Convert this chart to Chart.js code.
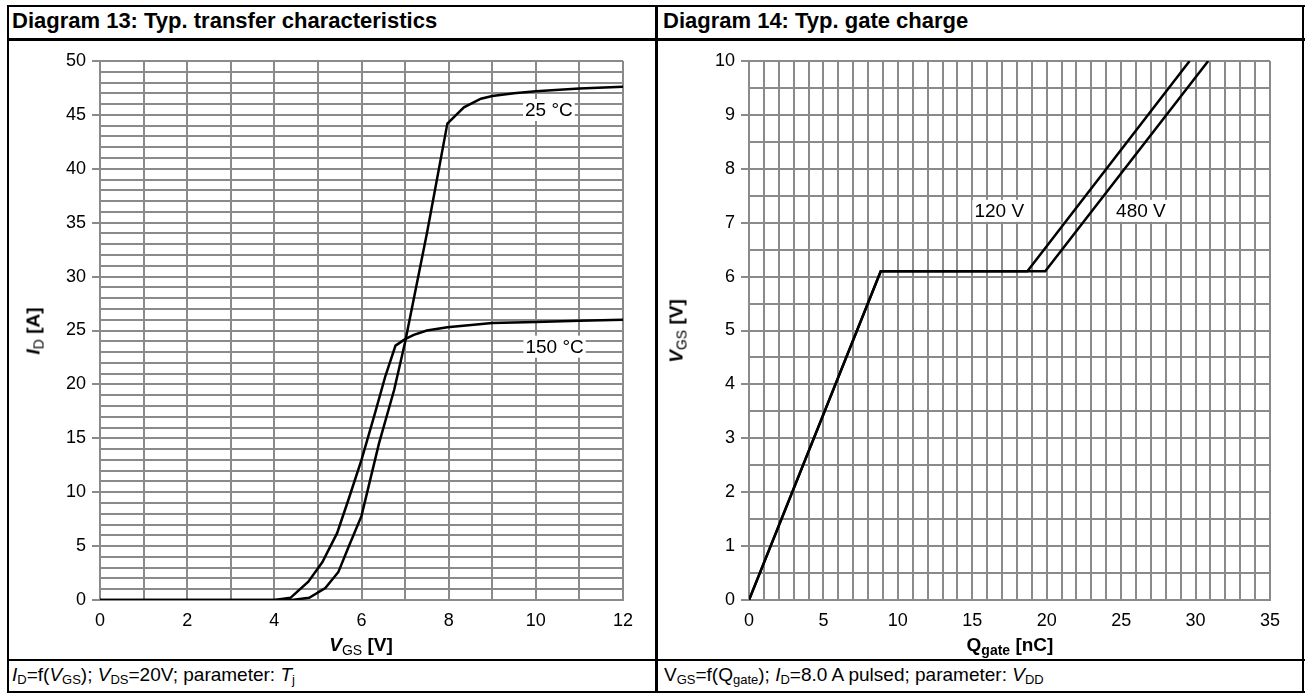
<!DOCTYPE html>
<html>
<head>
<meta charset="utf-8">
<script src="https://cdn.jsdelivr.net/npm/chart.js@4.4.1/dist/chart.umd.min.js"></script>
<style>
  body { margin: 0; background: #fff; width: 1306px; height: 693px; overflow: hidden; position: relative;
         font-family: "Liberation Sans", Arial, sans-serif; color: #000; }
  .ln { position: absolute; background: #000; }
  .hd { position: absolute; top: 9px; font-weight: bold; font-size: 22px; line-height: 24px; white-space: nowrap; }
  .cap { position: absolute; top: 664px; font-size: 19px; white-space: nowrap; line-height: 22px; }
  .tt { position: absolute; font-weight: bold; font-size: 19px; white-space: nowrap; line-height: 22px; }
  .s { font-size: 13px; position: relative; top: 3px; }
  .sb { font-size: 14px; position: relative; top: 4px; font-weight: normal; }
  .box { position: absolute; top: 40px; }
</style>
</head>
<body>
<!-- frame -->
<div class="ln" style="left:7px;top:5px;width:1298px;height:2px"></div>
<div class="ln" style="left:7px;top:38px;width:1298px;height:3px"></div>
<div class="ln" style="left:7px;top:659px;width:1298px;height:2px"></div>
<div class="ln" style="left:7px;top:691px;width:1298px;height:2px"></div>
<div class="ln" style="left:7px;top:5px;width:2px;height:688px"></div>
<div class="ln" style="left:1302px;top:5px;width:2px;height:688px"></div>
<div class="ln" style="left:655px;top:5px;width:3px;height:688px"></div>

<div class="hd" style="left:12px">Diagram 13: Typ. transfer characteristics</div>
<div class="hd" style="left:663px">Diagram 14: Typ. gate charge</div>

<div class="box" style="left:9px"><canvas id="c1" width="646" height="619"></canvas></div>
<div class="box" style="left:658px"><canvas id="c2" width="644" height="619"></canvas></div>

<div class="tt" style="left:34px;top:331px;transform:translate(-50%,-50%) rotate(-90deg)"><i>I</i><span class="sb">D</span> [A]</div>
<div class="tt" style="left:361px;top:645px;transform:translate(-50%,-50%)"><i>V</i><span class="sb">GS</span> [V]</div>
<div class="tt" style="left:677px;top:331px;transform:translate(-50%,-50%) rotate(-90deg)"><i>V</i><span class="sb">GS</span> [V]</div>
<div class="tt" style="left:1010px;top:645px;transform:translate(-50%,-50%)">Q<span class="sb" style="font-weight:bold">gate</span> [nC]</div>

<div class="cap" style="left:12px"><i>I</i><span class="s">D</span>=f(<i>V</i><span class="s">GS</span>); <i>V</i><span class="s">DS</span>=20V; parameter: <i>T</i><span class="s">j</span></div>
<div class="cap" style="left:664px">V<span class="s">GS</span>=f(Q<span class="s">gate</span>); <i>I</i><span class="s">D</span>=8.0 A pulsed; parameter: <i>V</i><span class="s">DD</span></div>

<script>
// Diagram 13 - transfer characteristics
var vgs25 = [0, 4.4, 4.8, 5.17, 5.47, 5.7, 6.0, 6.4, 6.75, 7.0, 7.5, 7.97, 8.35, 8.74, 9.0, 9.5, 10, 11, 12];
var id25  = [0, 0, 0.2, 1.1, 2.6, 4.9, 7.8, 14.5, 19.5, 23.9, 34, 44.2, 45.7, 46.5, 46.75, 47.0, 47.2, 47.45, 47.6];
var vgs150 = [0, 4.0, 4.37, 4.78, 5.1, 5.44, 5.7, 6.0, 6.3, 6.55, 6.78, 7.0, 7.2, 7.5, 7.97, 9.0, 10, 11, 12];
var id150  = [0, 0, 0.2, 1.7, 3.5, 6.2, 9.3, 13.0, 17.2, 20.8, 23.6, 24.2, 24.6, 25.0, 25.3, 25.7, 25.8, 25.9, 26.0];
var labels13 = [{ text: '25 °C', x: 10.3, y: 45.45 }, { text: '150 °C', x: 10.43, y: 23.5 }];

// Diagram 14 - gate charge
var q120 = [0, 8.85, 18.7, 29.6];
var v120 = [0, 6.1, 6.1, 10];
var q480 = [0, 8.85, 19.9, 30.85];
var v480 = [0, 6.1, 6.1, 10];
var labels14 = [{ text: '120 V', x: 16.81, y: 7.22 }, { text: '480 V', x: 26.33, y: 7.22 }];

var gridCol = '#8a8a8a';
var tickFont = { family: '"Liberation Sans", Arial, sans-serif', size: 18 };

function pts(xs, ys) {
  return xs.map(function (x, i) { return { x: x, y: ys[i] }; });
}

function lineSet(xs, ys) {
  return { data: pts(xs, ys), showLine: true, borderColor: '#000', borderWidth: 2.5,
           pointRadius: 0, tension: 0, fill: false };
}

// text labels with white box, placed on the data scales
function labelPlugin(list) {
  return {
    id: 'curveLabels',
    afterDatasetsDraw: function (chart) {
      var ctx = chart.ctx;
      ctx.save();
      ctx.font = '19px "Liberation Sans", Arial, sans-serif';
      ctx.textAlign = 'center';
      ctx.textBaseline = 'middle';
      list.forEach(function (l) {
        var px = chart.scales.x.getPixelForValue(l.x);
        var py = chart.scales.y.getPixelForValue(l.y);
        var w = ctx.measureText(l.text).width;
        ctx.fillStyle = '#fff';
        ctx.fillRect(px - w / 2 - 2, py - 11, w + 4, 22);
        ctx.fillStyle = '#000';
        ctx.fillText(l.text, px, py + 1);
      });
      ctx.restore();
    }
  };
}

function makeChart(id, sets, xmax, xlab, ymax, ystep, ylab, list) {
  var ctx = document.getElementById(id).getContext('2d');
  return new Chart(ctx, {
    type: 'scatter',
    data: { datasets: sets },
    plugins: [labelPlugin(list)],
    options: {
      responsive: false,
      animation: false,
      events: [],
      layout: { padding: { top: 21, right: 32, left: 0, bottom: 0 } },
      plugins: { legend: { display: false }, tooltip: { enabled: false } },
      scales: {
        x: {
          type: 'linear', min: 0, max: xmax,
          afterFit: function (s) { s.height = 59; },
          grid: { color: gridCol, lineWidth: 2, drawTicks: false },
          border: { color: gridCol, width: 2 },
          ticks: {
            stepSize: 1, autoSkip: false, maxRotation: 0, padding: 10, color: '#000', font: tickFont,
            callback: function (v) { return v % xlab === 0 ? String(v) : ''; }
          }
        },
        y: {
          type: 'linear', min: 0, max: ymax,
          afterFit: function (s) { s.width = 91; },
          grid: {
            color: gridCol, lineWidth: 2, tickLength: 8,
            tickColor: function (c) { return c.tick && c.tick.value % ylab === 0 ? gridCol : 'rgba(0,0,0,0)'; }
          },
          border: { color: gridCol, width: 2 },
          ticks: {
            stepSize: ystep, autoSkip: false, padding: 6, color: '#000', font: tickFont,
            callback: function (v) { return v % ylab === 0 ? String(v) : ''; }
          }
        }
      }
    }
  });
}

makeChart('c1', [lineSet(vgs25, id25), lineSet(vgs150, id150)], 12, 2, 50, 1, 5, labels13);
makeChart('c2', [lineSet(q120, v120), lineSet(q480, v480)], 35, 5, 10, 0.5, 1, labels14);
</script>
</body>
</html>
